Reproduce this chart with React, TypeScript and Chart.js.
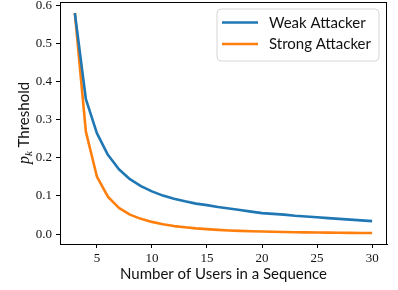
import React, { useEffect, useRef } from "react";
import { Chart, registerables } from "chart.js";
Chart.register(...registerables);

const users = [3, 4, 5, 6, 7, 8, 9, 10, 11, 12, 13, 14, 15, 16, 17, 18, 19, 20, 21, 22, 23, 24, 25, 26, 27, 28, 29, 30];
const weakAttacker = [0.58, 0.354, 0.265, 0.208, 0.17, 0.144, 0.126, 0.112, 0.101, 0.093, 0.086, 0.08, 0.076, 0.071, 0.067, 0.063, 0.059, 0.055, 0.053, 0.051, 0.048, 0.046, 0.044, 0.042, 0.04, 0.038, 0.036, 0.034];
const strongAttacker = [0.58, 0.269, 0.151, 0.098, 0.069, 0.051, 0.04, 0.032, 0.026, 0.021, 0.018, 0.015, 0.013, 0.011, 0.0095, 0.0085, 0.0075, 0.0067, 0.006, 0.0055, 0.005, 0.0046, 0.0042, 0.0038, 0.0035, 0.0032, 0.003, 0.0028];
const xTicks = [5, 10, 15, 20, 25, 30];
const yTicks = [0, 0.1, 0.2, 0.3, 0.4, 0.5, 0.6];
const seriesLabels = ["Weak Attacker", "Strong Attacker"];
const seriesColors = ["#1f77b4", "#ff7f0e"];
const xTitle = "Number of Users in a Sequence";
const yTitleMain = "Threshold";

const SANS = "Lato, 'DejaVu Sans', sans-serif";
const SERIF = "'Liberation Serif', 'DejaVu Serif', serif";

const framePlugin = {
  id: "frame",
  afterDraw(chart: any) {
    const { ctx, chartArea } = chart;
    const { left, right, top, bottom } = chartArea;
    ctx.save();
    // spines
    ctx.strokeStyle = "#000";
    ctx.lineWidth = 1;
    ctx.strokeRect(left + 0.5, top + 0.5, right - left - 1, bottom - top);

    // legend
    const lx = 217, ly = 9, lw = 162, lh = 52, r = 4;
    ctx.beginPath();
    ctx.moveTo(lx + r, ly);
    ctx.lineTo(lx + lw - r, ly);
    ctx.quadraticCurveTo(lx + lw, ly, lx + lw, ly + r);
    ctx.lineTo(lx + lw, ly + lh - r);
    ctx.quadraticCurveTo(lx + lw, ly + lh, lx + lw - r, ly + lh);
    ctx.lineTo(lx + r, ly + lh);
    ctx.quadraticCurveTo(lx, ly + lh, lx, ly + lh - r);
    ctx.lineTo(lx, ly + r);
    ctx.quadraticCurveTo(lx, ly, lx + r, ly);
    ctx.closePath();
    ctx.fillStyle = "rgba(255,255,255,0.85)";
    ctx.fill();
    ctx.strokeStyle = "#d6d6d6";
    ctx.lineWidth = 1;
    ctx.stroke();

    ctx.font = `15px ${SANS}`;
    ctx.textBaseline = "middle";
    ctx.textAlign = "left";
    seriesLabels.forEach((label, i) => {
      const y = 22.5 + i * 21.5;
      ctx.strokeStyle = seriesColors[i];
      ctx.lineWidth = 2.6;
      ctx.beginPath();
      ctx.moveTo(222, y);
      ctx.lineTo(258, y);
      ctx.stroke();
      ctx.fillStyle = "#111";
      ctx.fillText(label, 269, y + 0.5);
    });

    // x title
    ctx.font = `15px ${SANS}`;
    ctx.textAlign = "center";
    ctx.fillStyle = "#111";
    ctx.fillText(xTitle, (left + right) / 2, 274.5);

    // y title: p_k Threshold (rotated)
    const cy = (top + bottom) / 2;
    ctx.translate(24, cy);
    ctx.rotate(-Math.PI / 2);
    ctx.textAlign = "left";
    const pFont = `italic 16px ${SERIF}`;
    const kFont = `italic 11px ${SERIF}`;
    const tFont = `15px ${SANS}`;
    ctx.font = pFont;
    const pw = ctx.measureText("p").width;
    ctx.font = kFont;
    const kw = ctx.measureText("k").width;
    ctx.font = tFont;
    const sw = ctx.measureText(" ").width;
    const tw = ctx.measureText(yTitleMain).width;
    const total = pw + kw + sw + tw;
    let x0 = -total / 2;
    ctx.textBaseline = "alphabetic";
    const base = 5;
    ctx.font = pFont;
    ctx.fillText("p", x0, base);
    x0 += pw;
    ctx.font = kFont;
    ctx.fillText("k", x0, base + 3);
    x0 += kw + sw;
    ctx.font = tFont;
    ctx.fillText(yTitleMain, x0, base);
    ctx.restore();
  },
};

export default function App() {
  const ref = useRef<HTMLCanvasElement>(null);
  useEffect(() => {
    document.body.style.margin = "0";
    const chart = new Chart(ref.current!, {
      type: "line",
      data: {
        datasets: [
          {
            label: seriesLabels[0],
            data: users.map((x, i) => ({ x, y: weakAttacker[i] })),
            borderColor: seriesColors[0],
            backgroundColor: seriesColors[0],
          },
          {
            label: seriesLabels[1],
            data: users.map((x, i) => ({ x, y: strongAttacker[i] })),
            borderColor: seriesColors[1],
            backgroundColor: seriesColors[1],
          },
        ],
      },
      options: {
        animation: false,
        responsive: false,
        maintainAspectRatio: false,
        layout: { padding: { top: 2, right: 11, left: 0, bottom: 0 } },
        plugins: { legend: { display: false }, tooltip: { enabled: false } },
        elements: {
          point: { radius: 0 },
          line: { borderWidth: 2.6, tension: 0, borderCapStyle: "butt", borderJoinStyle: "round" },
        },
        scales: {
          x: {
            type: "linear",
            min: 1.65,
            max: 31.35,
            afterBuildTicks: (s: any) => {
              s.ticks = xTicks.map((v) => ({ value: v }));
            },
            afterFit: (s: any) => {
              s.height = 46;
              s.paddingLeft = 0;
              s.paddingRight = 0;
              s.paddingTop = 0;
              s.paddingBottom = 0;
            },
            grid: { drawOnChartArea: false, drawTicks: true, tickLength: 4, color: "#000", lineWidth: 1 },
            border: { display: true, color: "#000", width: 1 },
            ticks: {
              padding: 3,
              maxRotation: 0,
              autoSkip: false,
              color: "#111",
              font: { family: SERIF, size: 13 },
              callback: (v: any) => String(v),
            },
          },
          y: {
            type: "linear",
            min: -0.026,
            max: 0.609,
            afterBuildTicks: (s: any) => {
              s.ticks = yTicks.map((v) => ({ value: v }));
            },
            afterFit: (s: any) => {
              s.width = 60;
              s.paddingLeft = 0;
              s.paddingRight = 0;
              s.paddingTop = 0;
              s.paddingBottom = 0;
            },
            grid: { drawOnChartArea: false, drawTicks: true, tickLength: 4, color: "#000", lineWidth: 1 },
            border: { display: true, color: "#000", width: 1 },
            ticks: {
              padding: 4,
              autoSkip: false,
              color: "#111",
              font: { family: SERIF, size: 13 },
              callback: (v: any) => Number(v).toFixed(1),
            },
          },
        },
      },
      plugins: [framePlugin],
    } as any);
    return () => chart.destroy();
  }, []);
  return (
    <div style={{ position: "fixed", left: 0, top: 0, width: 398, height: 290, background: "#fff" }}>
      <canvas ref={ref} width={398} height={290} style={{ width: 398, height: 290, display: "block" }} />
    </div>
  );
}
